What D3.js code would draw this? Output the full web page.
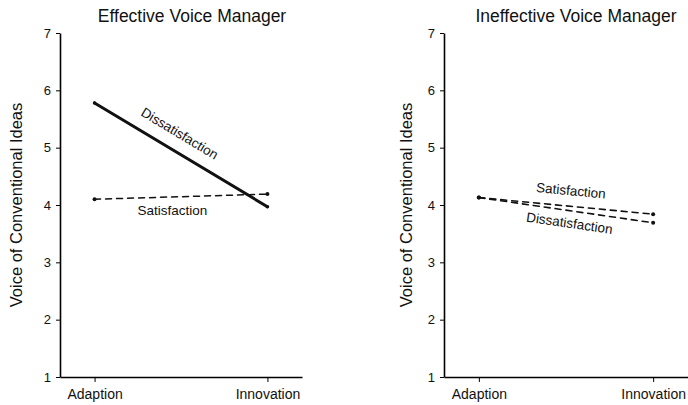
<!DOCTYPE html>
<html>
<head>
<meta charset="utf-8">
<script src="https://cdn.jsdelivr.net/npm/d3@7"></script>
<style>
  body { margin: 0; background: #fff; }
  text { font-family: "Liberation Sans", Arial, sans-serif; fill: #111; }
</style>
</head>
<body>
<div id="chart"></div>
<script>
// data
const conditions = ["Adaption", "Innovation"]
const yTicks = [1, 2, 3, 4, 5, 6, 7]
const panelTitles = ["Effective Voice Manager", "Ineffective Voice Manager"]
const yLabel = "Voice of Conventional Ideas"

const effSatisfaction = [4.10, 4.19]
const effDissatisfaction = [5.78, 3.97]
const ineffSatisfaction = [4.13, 3.84]
const ineffDissatisfaction = [4.13, 3.69]

const W = 688, H = 405

const svg = d3.select("#chart").append("svg")
    .attr("width", W)
    .attr("height", H)

const y = d3.scaleLinear().domain([1, 7]).range([377, 33])

const panels = [
    {x0: 60, w: 242, title: panelTitles[0], titleX: 192, labelX: 16,
     lines: [
        {name: "Dissatisfaction", vals: effDissatisfaction, dash: null, width: 3,
         at: 0.44, dy: -13, rot: true},
        {name: "Satisfaction", vals: effSatisfaction, dash: "6,5", width: 1.5,
         at: 0.45, dy: 18, rot: false}
     ]},
    {x0: 444, w: 244, title: panelTitles[1], titleX: 576, labelX: 406,
     lines: [
        {name: "Satisfaction", vals: ineffSatisfaction, dash: "6,5", width: 1.6,
         at: 0.52, dy: -11, rot: true},
        {name: "Dissatisfaction", vals: ineffDissatisfaction, dash: "6,5", width: 1.6,
         at: 0.53, dy: 17, rot: true}
     ]}
]

panels.forEach(p => {
    const g = svg.append("g").attr("transform", `translate(${p.x0},0)`)

    const x = d3.scalePoint().domain(conditions).range([0, p.w]).padding(0.2)

    // title
    g.append("text")
        .attr("x", p.titleX - p.x0)
        .attr("y", 22)
        .attr("text-anchor", "middle")
        .style("font-size", "17.5px")
        .text(p.title)

    // y axis
    const ya = g.append("g")
        .call(d3.axisLeft(y).tickValues(yTicks).tickFormat(d3.format("d"))
            .tickSize(4).tickPadding(5).tickSizeOuter(0))
    ya.select(".domain").attr("stroke-width", 1.6)
    ya.selectAll("text").style("font-size", "13px")
        .attr("font-family", null)

    // x axis
    const xa = g.append("g")
        .attr("transform", `translate(0,${y(1)})`)
        .call(d3.axisBottom(x).tickSize(5).tickPadding(7).tickSizeOuter(0))
    xa.select(".domain").attr("stroke-width", 1.6)
    xa.selectAll("text").style("font-size", "14px")
        .attr("font-family", null)

    // y label
    g.append("text")
        .attr("transform", `translate(${p.labelX - p.x0},${205}) rotate(-90)`)
        .attr("text-anchor", "middle")
        .attr("dy", "0.35em")
        .style("font-size", "16.5px")
        .text(yLabel)

    const line = d3.line()
        .x((d, i) => x(conditions[i]))
        .y(d => y(d))

    p.lines.forEach(l => {
        g.append("path")
            .datum(l.vals)
            .attr("d", line)
            .attr("fill", "none")
            .attr("stroke", "#111")
            .attr("stroke-width", l.width)
            .attr("stroke-dasharray", l.dash)
            .attr("stroke-linecap", "round")

        g.selectAll(null)
            .data(l.vals)
            .join("circle")
            .attr("cx", (d, i) => x(conditions[i]))
            .attr("cy", d => y(d))
            .attr("r", l.width > 2 ? 1.8 : 2)
            .attr("fill", "#111")

        // label placed along the line
        const x1 = x(conditions[0]), x2 = x(conditions[1])
        const y1 = y(l.vals[0]), y2 = y(l.vals[1])
        const lx = x1 + (x2 - x1) * l.at
        const ly = y1 + (y2 - y1) * l.at
        const ang = l.rot ? Math.atan2(y2 - y1, x2 - x1) * 180 / Math.PI : 0
        g.append("text")
            .attr("transform", `translate(${lx},${ly}) rotate(${ang}) translate(0,${l.dy})`)
            .attr("text-anchor", "middle")
            .style("font-size", "13.5px")
            .text(l.name)
    })
})
</script>
</body>
</html>
